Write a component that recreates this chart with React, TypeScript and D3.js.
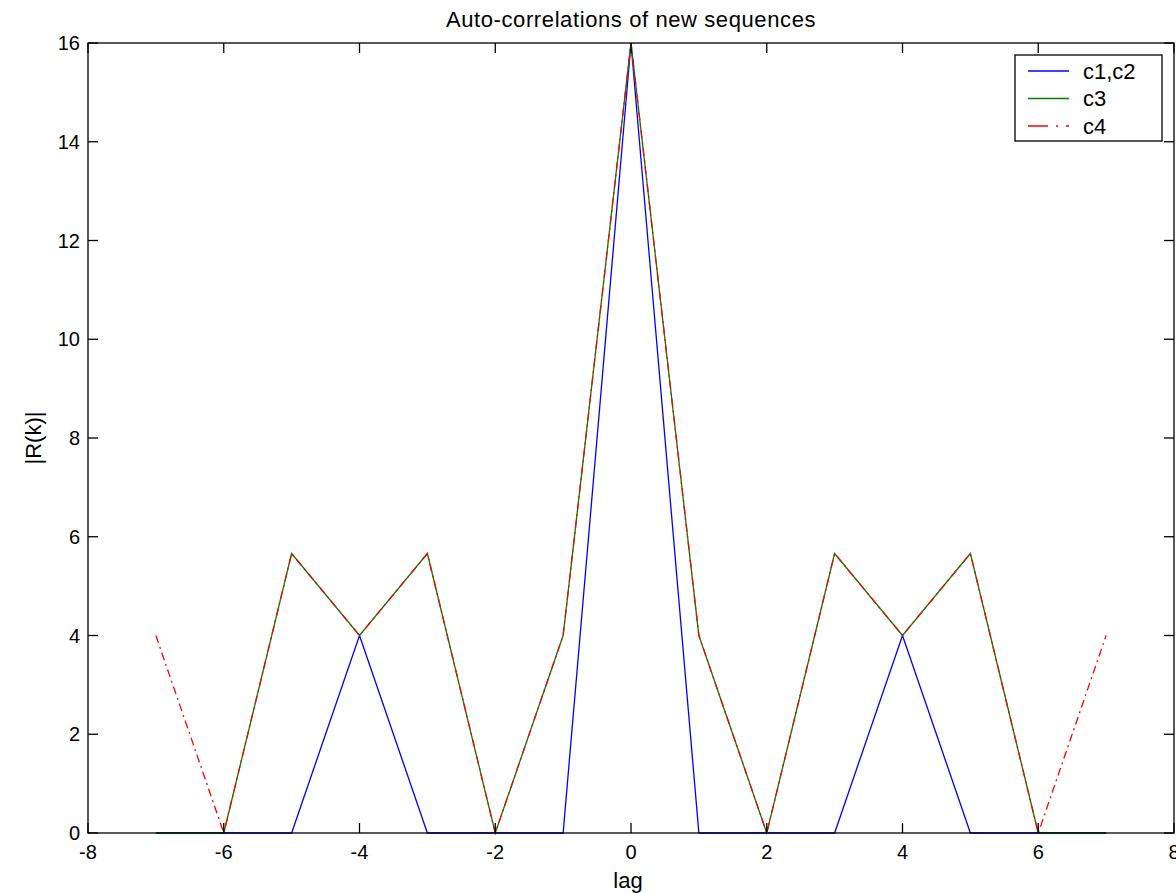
import React from "react";
import * as d3 from "d3";

const lags = [-7, -6, -5, -4, -3, -2, -1, 0, 1, 2, 3, 4, 5, 6, 7];
const c12 = [0, 0, 0, 4, 0, 0, 0, 16, 0, 0, 0, 4, 0, 0, 0];
const c3 = [0, 0, 5.66, 4, 5.66, 0, 4, 16, 4, 0, 5.66, 4, 5.66, 0, 0];
const c4 = [4, 0, 5.66, 4, 5.66, 0, 4, 16, 4, 0, 5.66, 4, 5.66, 0, 4];
const xTicks = [-8, -6, -4, -2, 0, 2, 4, 6, 8];
const yTicks = [0, 2, 4, 6, 8, 10, 12, 14, 16];
const legendLabels = ["c1,c2", "c3", "c4"];

const W = 1176, H = 893;
const L = 88, R = 1174, T = 43, B = 833;
const FONT = "'Liberation Sans', Arial, sans-serif";

export default function App() {
  const x = d3.scaleLinear().domain([-8, 8]).range([L, R]);
  const y = d3.scaleLinear().domain([0, 16]).range([B, T]);
  const line = d3.line<number>().x((_, i) => x(lags[i])).y((d) => y(d));
  const series = [
    { vals: c12, color: "#0000ff", dash: undefined as string | undefined },
    { vals: c3, color: "#008000", dash: undefined },
    { vals: c4, color: "#ff0000", dash: "8,4,2,4" },
  ];
  const tl = 10;
  return (
    <div style={{ position: "absolute", left: 0, top: 0 }}>
      <svg width={W} height={H} style={{ display: "block", background: "#fff" }}>
        <rect x={0} y={0} width={W} height={H} fill="#fff" />
        {series.map((s, i) => (
          <path key={i} d={line(s.vals) || ""} fill="none" stroke={s.color} strokeWidth={1.3} strokeDasharray={s.dash} />
        ))}
        <rect x={L} y={T} width={R - L} height={B - T} fill="none" stroke="#000" strokeWidth={1.3} />
        {xTicks.map((t) => (
          <g key={"x" + t}>
            <line x1={x(t)} x2={x(t)} y1={B} y2={B - tl} stroke="#000" strokeWidth={1.3} />
            <line x1={x(t)} x2={x(t)} y1={T} y2={T + tl} stroke="#000" strokeWidth={1.3} />
            <text x={x(t)} y={852} textAnchor="middle" dominantBaseline="central" fontFamily={FONT} fontSize={20} fill="#000">{t}</text>
          </g>
        ))}
        {yTicks.map((t) => (
          <g key={"y" + t}>
            <line x1={L} x2={L + tl} y1={y(t)} y2={y(t)} stroke="#000" strokeWidth={1.3} />
            <line x1={R} x2={R - tl} y1={y(t)} y2={y(t)} stroke="#000" strokeWidth={1.3} />
            <text x={80} y={y(t)} textAnchor="end" dominantBaseline="central" fontFamily={FONT} fontSize={20} fill="#000">{t}</text>
          </g>
        ))}
        <text x={(L + R) / 2} y={19} textAnchor="middle" dominantBaseline="central" fontFamily={FONT} fontSize={22} letterSpacing={0.6} fill="#000">Auto-correlations of new sequences</text>
        <text x={628} y={880} textAnchor="middle" dominantBaseline="central" fontFamily={FONT} fontSize={22} fill="#000">lag</text>
        <text transform={`translate(33,${(T + B) / 2}) rotate(-90)`} textAnchor="middle" dominantBaseline="central" fontFamily={FONT} fontSize={22} fill="#000">|R(k)|</text>
        <g>
          <rect x={1015} y={55} width={147} height={86} fill="#fff" stroke="#000" strokeWidth={1.3} />
          {legendLabels.map((lab, i) => {
            const ly = 71 + i * 27.5;
            const s = series[i];
            return (
              <g key={lab}>
                <line x1={1028} x2={1069} y1={ly} y2={ly} stroke={s.color} strokeWidth={1.3} strokeDasharray={s.dash ? "20,8,2,8" : undefined} />
                <text x={1083} y={ly} dominantBaseline="central" fontFamily={FONT} fontSize={22} fill="#000">{lab}</text>
              </g>
            );
          })}
        </g>
      </svg>
    </div>
  );
}
